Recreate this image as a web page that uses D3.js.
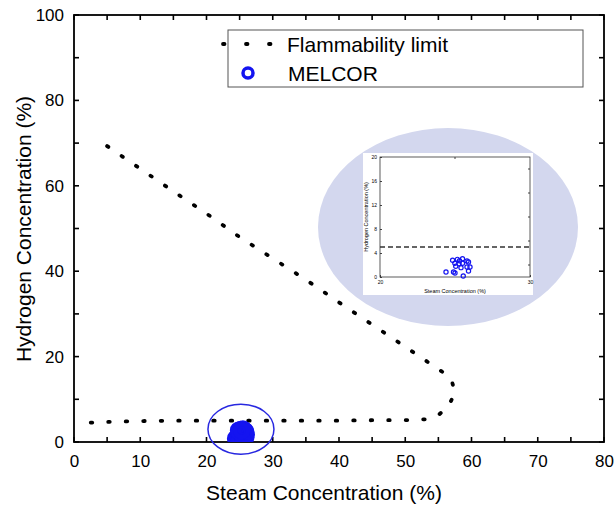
<!DOCTYPE html>
<html>
<head>
<meta charset="utf-8">
<script src="https://d3js.org/d3.v7.min.js"></script>
<style>
  html, body { margin: 0; background: #fff; }
  svg { display: block; }
  text { font-family: "Liberation Sans", Arial, sans-serif; fill: #000; }
</style>
</head>
<body>
<svg id="chart" width="614" height="506"></svg>
<script>
// flammability limit curve (steam %, hydrogen %), drawn from upper-left end
const flamX = [5, 10, 15, 20, 25, 30, 35, 40, 45, 50, 56, 57, 57.5, 56.5, 55, 53, 50, 45, 40, 35, 30, 25, 20, 15, 10, 5, 1];
const flamY = [69.3, 64, 58.7, 53.5, 48, 43, 38, 32.7, 27.5, 22.3, 16, 14.5, 11.5, 8.3, 6.3, 5.3, 5.1, 5.1, 5.0, 5.0, 5.0, 5.0, 5.0, 5.0, 4.9, 4.7, 4.4];

// MELCOR results
const melX = [24.4, 24.84, 24.9, 25.05, 25.0, 25.16, 25.27, 25.4, 25.5, 25.5, 25.8, 25.8, 25.9, 26.0, 25.9, 25.55, 24.99, 25.3];
const melY = [0.83, 2.78, 0.83, 1.78, 0.67, 2.94, 2.2, 1.56, 3.05, 2.3, 1.67, 2.67, 1.0, 1.67, 2.5, 0.17, 2.3, 2.7];

const xTicks = [0, 10, 20, 30, 40, 50, 60, 70, 80];
const yTicks = [0, 20, 40, 60, 80, 100];
const xMinor = d3.range(0, 81, 5);
const yMinor = d3.range(0, 101, 10);
const insetXTicks = [20, 30];
const insetYTicks = [0, 4, 8, 12, 16, 20];
const insetLimit = 5;

const svg = d3.select("#chart");
const blue = "#1414f0";

const x = d3.scaleLinear().domain([0, 80]).range([74, 604]);
const y = d3.scaleLinear().domain([0, 100]).range([442, 15]);

// clip for plot area
svg.append("clipPath").attr("id", "plotclip")
  .append("rect").attr("x", 74).attr("y", 15).attr("width", 530).attr("height", 427);

// inset background ellipse
svg.append("ellipse")
  .attr("cx", 448).attr("cy", 227).attr("rx", 130).attr("ry", 99)
  .attr("fill", "#d3d7ee");

// ---- inset ----
const xi = d3.scaleLinear().domain([20, 30]).range([380, 530]);
const yi = d3.scaleLinear().domain([0, 20]).range([277, 157]);

svg.append("rect")
  .attr("x", 363).attr("y", 153).attr("width", 170).attr("height", 142)
  .attr("fill", "#fff");

const inset = svg.append("g");
inset.append("g")
  .attr("transform", "translate(0,277)")
  .call(d3.axisBottom(xi).tickValues(insetXTicks).tickSize(-2).tickPadding(3))
  .call(g => g.select(".domain").remove());
inset.append("g")
  .attr("transform", "translate(380,0)")
  .call(d3.axisLeft(yi).tickValues(insetYTicks).tickSize(-2).tickPadding(3))
  .call(g => g.select(".domain").remove());
inset.selectAll(".tick text").attr("font-size", 5).style("font-family", "Liberation Sans, Arial, sans-serif");
inset.selectAll(".tick line").attr("stroke", "#444");
// right side minor ticks
inset.selectAll("line.rt")
  .data([2, 6, 10, 14, 18])
  .join("line")
  .attr("x1", 530).attr("x2", 528)
  .attr("y1", d => yi(d)).attr("y2", d => yi(d))
  .attr("stroke", "#444");
inset.append("line")
  .attr("x1", xi(25)).attr("x2", xi(25))
  .attr("y1", 157).attr("y2", 159).attr("stroke", "#444");
inset.append("rect")
  .attr("x", 380).attr("y", 157).attr("width", 150).attr("height", 120)
  .attr("fill", "none").attr("stroke", "#333").attr("stroke-width", 0.8);
inset.append("line")
  .attr("x1", xi(20)).attr("x2", xi(30))
  .attr("y1", yi(insetLimit)).attr("y2", yi(insetLimit))
  .attr("stroke", "#333").attr("stroke-width", 1.3)
  .attr("stroke-dasharray", "5 3");
inset.selectAll("circle.ins")
  .data(melX.map((d, i) => [d, melY[i]]))
  .join("circle")
  .attr("class", "ins")
  .attr("cx", d => xi(d[0])).attr("cy", d => yi(d[1]))
  .attr("r", 2.1)
  .attr("fill", "none").attr("stroke", blue).attr("stroke-width", 1.2);
inset.append("text")
  .attr("x", 455).attr("y", 293)
  .attr("text-anchor", "middle").attr("font-size", 5.5)
  .text("Steam Concentration (%)");
inset.append("text")
  .attr("transform", "translate(368,217) rotate(-90)")
  .attr("text-anchor", "middle").attr("font-size", 5.5)
  .text("Hydrogen Concentration (%)");

// ---- main axes: labels ----
svg.append("g")
  .attr("transform", "translate(0,442)")
  .call(d3.axisBottom(x).tickValues(xTicks).tickSize(0).tickPadding(13))
  .call(g => g.select(".domain").remove())
  .call(g => g.selectAll("text").attr("font-size", 17)
    .style("font-family", "Liberation Sans, Arial, sans-serif"));
svg.append("g")
  .attr("transform", "translate(74,0)")
  .call(d3.axisLeft(y).tickValues(yTicks).tickSize(0).tickPadding(10))
  .call(g => g.select(".domain").remove())
  .call(g => g.selectAll("text").attr("font-size", 17)
    .style("font-family", "Liberation Sans, Arial, sans-serif"));

// tick marks, pointing inward on all four sides
const ticks = svg.append("g").attr("stroke", "#000").attr("stroke-width", 1.6);
ticks.selectAll("line.xb").data(xMinor).join("line")
  .attr("x1", d => x(d)).attr("x2", d => x(d)).attr("y1", 442).attr("y2", 437);
ticks.selectAll("line.xt").data(xMinor).join("line")
  .attr("x1", d => x(d)).attr("x2", d => x(d)).attr("y1", 15).attr("y2", 20);
ticks.selectAll("line.yl").data(yMinor).join("line")
  .attr("y1", d => y(d)).attr("y2", d => y(d)).attr("x1", 74).attr("x2", 79);
ticks.selectAll("line.yr").data(yMinor).join("line")
  .attr("y1", d => y(d)).attr("y2", d => y(d)).attr("x1", 604).attr("x2", 599);

svg.append("rect")
  .attr("x", 74).attr("y", 15).attr("width", 530).attr("height", 427)
  .attr("fill", "none").attr("stroke", "#000").attr("stroke-width", 1.8);

// ---- flammability limit ----
const line = d3.line().x(d => x(d[0])).y(d => y(d[1]));
svg.append("path")
  .datum(flamX.map((d, i) => [d, flamY[i]]))
  .attr("d", line)
  .attr("fill", "none")
  .attr("stroke", "#000")
  .attr("stroke-width", 3.8)
  .attr("stroke-linecap", "round")
  .attr("stroke-dasharray", "1.5 16");

// ---- MELCOR ----
svg.append("g").attr("clip-path", "url(#plotclip)")
  .selectAll("circle")
  .data(melX.map((d, i) => [d, melY[i]]))
  .join("circle")
  .attr("cx", d => x(d[0])).attr("cy", d => y(d[1]))
  .attr("r", 6.5)
  .attr("fill", "none").attr("stroke", blue).attr("stroke-width", 4.5);

svg.append("ellipse")
  .attr("cx", x(25.2)).attr("cy", y(3))
  .attr("rx", 33).attr("ry", 25)
  .attr("fill", "none").attr("stroke", "#2828e0").attr("stroke-width", 1.5);

// ---- legend ----
const leg = svg.append("g");
leg.append("rect")
  .attr("x", 228).attr("y", 30).attr("width", 355).attr("height", 57)
  .attr("fill", "#fff").attr("stroke", "#555").attr("stroke-width", 1);
leg.append("line")
  .attr("x1", 223).attr("x2", 272).attr("y1", 44).attr("y2", 44)
  .attr("stroke", "#000").attr("stroke-width", 3.8)
  .attr("stroke-linecap", "round")
  .attr("stroke-dasharray", "1.5 21.5");
leg.append("text").attr("x", 287).attr("y", 52).attr("font-size", 21)
  .text("Flammability limit");
leg.append("circle")
  .attr("cx", 248).attr("cy", 73).attr("r", 5)
  .attr("fill", "none").attr("stroke", blue).attr("stroke-width", 3.5);
leg.append("text").attr("x", 288).attr("y", 81).attr("font-size", 21)
  .text("MELCOR");

// ---- titles ----
svg.append("text")
  .attr("x", 324).attr("y", 500)
  .attr("text-anchor", "middle").attr("font-size", 21)
  .text("Steam Concentration (%)");
svg.append("text")
  .attr("transform", "translate(31,229) rotate(-90)")
  .attr("text-anchor", "middle").attr("font-size", 21)
  .text("Hydrogen Concentration (%)");
</script>
</body>
</html>
